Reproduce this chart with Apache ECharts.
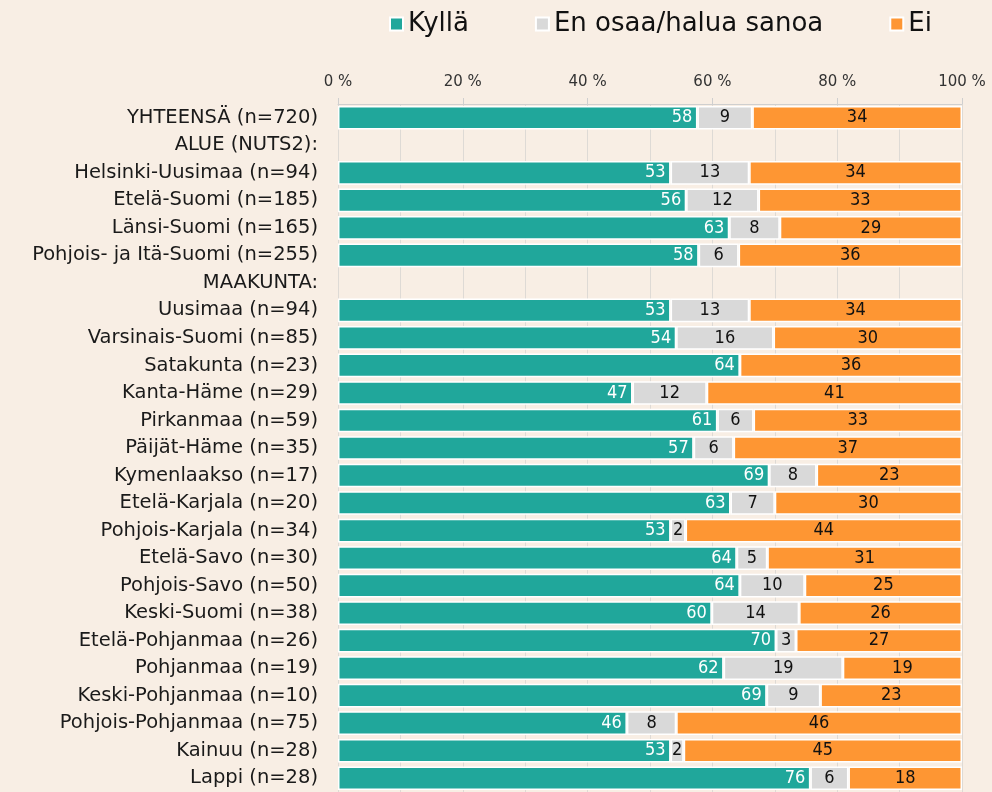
<!DOCTYPE html>
<html>
<head>
<meta charset="utf-8">
<script src="https://cdn.jsdelivr.net/npm/echarts@6/dist/echarts.min.js"></script>
<style>
  html, body { margin: 0; padding: 0; background: #f8eee4; }
  #chart { width: 992px; height: 792px; }
</style>
</head>
<body>
<div id="chart"></div>
<script>
// rivit (otsikkorivit ilman palkkeja)
const categories = [
  'YHTEENSÄ (n=720)', 'ALUE (NUTS2):', 'Helsinki-Uusimaa (n=94)', 'Etelä-Suomi (n=185)',
  'Länsi-Suomi (n=165)', 'Pohjois- ja Itä-Suomi (n=255)', 'MAAKUNTA:', 'Uusimaa (n=94)',
  'Varsinais-Suomi (n=85)', 'Satakunta (n=23)', 'Kanta-Häme (n=29)', 'Pirkanmaa (n=59)',
  'Päijät-Häme (n=35)', 'Kymenlaakso (n=17)', 'Etelä-Karjala (n=20)', 'Pohjois-Karjala (n=34)',
  'Etelä-Savo (n=30)', 'Pohjois-Savo (n=50)', 'Keski-Suomi (n=38)', 'Etelä-Pohjanmaa (n=26)',
  'Pohjanmaa (n=19)', 'Keski-Pohjanmaa (n=10)', 'Pohjois-Pohjanmaa (n=75)', 'Kainuu (n=28)',
  'Lappi (n=28)'
];
const kylla = [57.6, null, 53.3, 55.8, 62.7, 57.8, null, 53.3, 54.2, 64.4, 47.2, 60.8, 57.0,
  69.1, 62.9, 53.3, 63.9, 64.4, 59.9, 70.2, 61.8, 68.7, 46.3, 53.3, 75.7];
const enOsaa = [8.8, null, 12.6, 11.6, 8.1, 6.4, null, 12.6, 15.6, 0, 11.9, 5.8, 6.4,
  7.6, 7.1, 2.4, 4.9, 10.4, 14.0, 3.2, 19.1, 8.6, 7.9, 2.1, 6.1];
const ei = [33.6, null, 34.1, 32.6, 29.2, 35.8, null, 34.1, 30.2, 35.6, 40.9, 33.4, 36.6,
  23.3, 30.0, 44.3, 31.2, 25.2, 26.1, 26.6, 19.1, 22.7, 45.8, 44.6, 18.2];
const tickLabels = ['0 %', '20 %', '40 %', '60 %', '80 %', '100 %'];

const chart = echarts.init(document.getElementById('chart'));

const labelFont = "'DejaVu Sans Condensed', 'Liberation Sans Narrow', 'Roboto', sans-serif";
const textFont = "'DejaVu Sans', sans-serif";

function serie(name, data, color, textColor, pos) {
  return {
    name: name,
    type: 'bar',
    stack: 'all',
    data: data,
    barCategoryGap: '14%',
    itemStyle: { color: color, borderColor: '#ffffff', borderWidth: 1.5 },
    label: {
      show: true,
      position: pos,
      color: textColor,
      fontFamily: labelFont,
      fontSize: 18,
      formatter: (p) => (p.value ? Math.round(p.value) : '')
    }
  };
}

const option = {
  backgroundColor: '#f8eee4',
  animation: false,
  legend: {
    top: 6,
    left: 384,
    itemWidth: 13,
    itemHeight: 13,
    itemGap: 66,
    icon: 'rect',
    textStyle: { fontSize: 26, color: '#111', fontFamily: textFont },
    data: ['Kyllä', 'En osaa/halua sanoa', 'Ei']
  },
  grid: { left: 338, right: 30, top: 104, height: 693, containLabel: false },
  xAxis: {
    type: 'value',
    position: 'top',
    min: 0,
    max: 100,
    interval: 20,
    axisLine: { show: true, lineStyle: { color: '#cfcfcf' } },
    axisTick: { show: true, length: 6, lineStyle: { color: '#cfcfcf' } },
    axisLabel: {
      margin: 14,
      fontSize: 15,
      color: '#333',
      fontFamily: textFont,
      formatter: (v) => tickLabels[v / 20]
    },
    splitLine: { show: true, lineStyle: { color: '#dedad5' } },
    minorTick: { show: false, splitNumber: 2 },
    minorSplitLine: { show: true, lineStyle: { color: '#dedad5' } }
  },
  yAxis: {
    type: 'category',
    inverse: true,
    data: categories,
    axisLine: { show: false },
    axisTick: { show: false },
    axisLabel: {
      margin: 20,
      fontSize: 19.5,
      color: '#1a1a1a',
      fontFamily: textFont
    }
  },
  series: [
    serie('Kyllä', kylla, '#20a79b', '#ffffff', 'insideRight'),
    serie('En osaa/halua sanoa', enOsaa, '#d9d9d9', '#111111', 'inside'),
    serie('Ei', ei, '#fe9633', '#111111', 'inside')
  ]
};

chart.setOption(option);
</script>
</body>
</html>
